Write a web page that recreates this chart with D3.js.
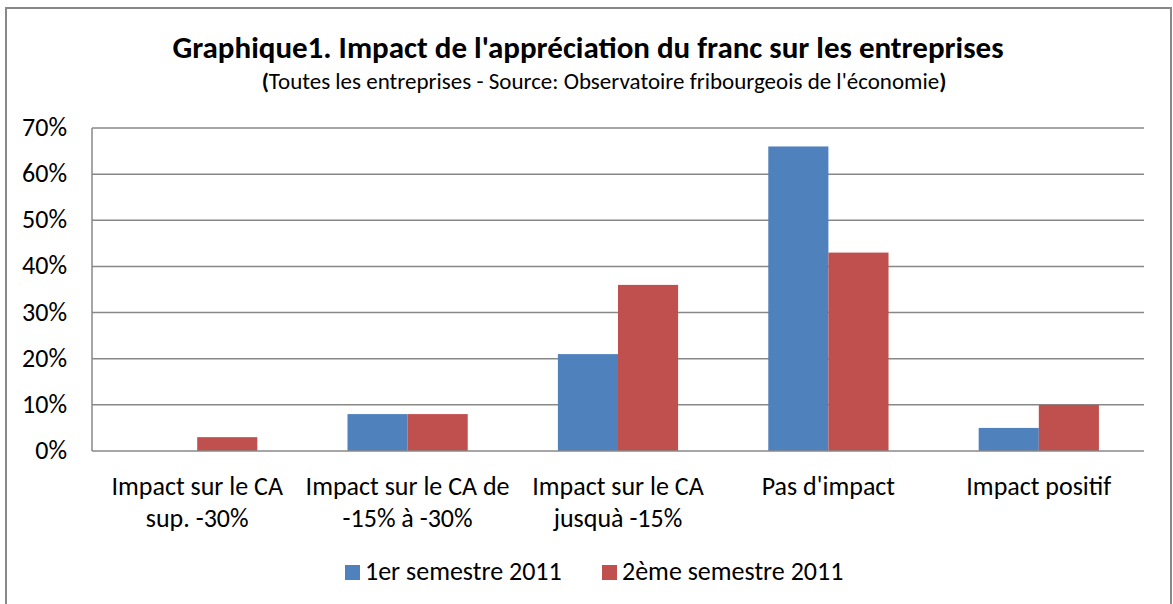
<!DOCTYPE html>
<html>
<head>
<meta charset="utf-8">
<script src="https://cdn.jsdelivr.net/npm/d3@7"></script>
<style>
body { margin: 0; background: #fff; }
svg text { font-family: Carlito, Lato, "Open Sans", sans-serif; fill: #000; }
</style>
</head>
<body>
<svg id="chart" width="1173" height="604"></svg>
<script>
const categories = [
  ["Impact sur le CA", "sup. -30%"],
  ["Impact sur le CA de", "-15% à -30%"],
  ["Impact sur le CA", "jusquà -15%"],
  ["Pas d'impact"],
  ["Impact positif"]
];
const seriesNames = ["1er semestre 2011", "2ème semestre 2011"];
const seriesColors = ["#4f81bd", "#c0504d"];
const semestre1 = [0, 8, 21, 66, 5];
const semestre2 = [3, 8, 36, 43, 10];
const yTicks = [0, 10, 20, 30, 40, 50, 60, 70];

const width = 1173, height = 604;
const margin = {left: 92, right: 29, top: 128, bottom: 153};

const svg = d3.select("#chart");

// outer frame
svg.append("rect")
  .attr("x", 6).attr("y", 8)
  .attr("width", 1165).attr("height", 620)
  .attr("fill", "none")
  .attr("stroke", "#888")
  .attr("stroke-width", 2);

const data = categories.map((c, i) => ({key: i, label: c, values: [semestre1[i], semestre2[i]]}));

const x0 = d3.scaleBand()
  .domain(data.map(d => d.key))
  .range([margin.left, width - margin.right]);

const x1 = d3.scaleBand()
  .domain([0, 1])
  .range([0, x0.bandwidth()])
  .paddingOuter(0.75);

const y = d3.scaleLinear()
  .domain([0, 70])
  .range([height - margin.bottom, margin.top]);

// gridlines
svg.append("g")
  .selectAll("line")
  .data(yTicks.slice(1))
  .join("line")
  .attr("x1", margin.left).attr("x2", width - margin.right)
  .attr("y1", d => y(d)).attr("y2", d => y(d))
  .attr("stroke", "#888")
  .attr("stroke-width", 1.5);

// bars
const groups = svg.append("g")
  .selectAll("g")
  .data(data)
  .join("g")
  .attr("transform", d => `translate(${x0(d.key)},0)`);

groups.selectAll("rect")
  .data(d => d.values.map((v, j) => ({j, v})))
  .join("rect")
  .attr("x", d => x1(d.j))
  .attr("width", x1.bandwidth())
  .attr("y", d => y(d.v))
  .attr("height", d => y(0) - y(d.v))
  .attr("fill", d => seriesColors[d.j]);

// axes lines
svg.append("line")
  .attr("x1", margin.left).attr("x2", margin.left)
  .attr("y1", y(70)).attr("y2", y(0))
  .attr("stroke", "#888").attr("stroke-width", 1.5);
svg.append("line")
  .attr("x1", margin.left).attr("x2", width - margin.right)
  .attr("y1", y(0)).attr("y2", y(0))
  .attr("stroke", "#888").attr("stroke-width", 1.5);

// y tick labels
svg.append("g")
  .selectAll("text")
  .data(yTicks)
  .join("text")
  .attr("x", 67)
  .attr("y", d => y(d) + 8)
  .attr("text-anchor", "end")
  .attr("font-size", 26)
  .text(d => d + "%");

// x labels
const xl = svg.append("g")
  .selectAll("text")
  .data(data)
  .join("text")
  .attr("x", d => x0(d.key) + x0.bandwidth() / 2)
  .attr("y", 495)
  .attr("text-anchor", "middle")
  .attr("font-size", 26);
xl.selectAll("tspan")
  .data(d => d.label)
  .join("tspan")
  .attr("x", function () { return this.parentNode.getAttribute("x"); })
  .attr("dy", (d, i) => i === 0 ? 0 : 32)
  .text(d => d);

// title
svg.append("text")
  .attr("x", 588).attr("y", 58)
  .attr("text-anchor", "middle")
  .attr("font-size", 31)
  .attr("font-weight", "bold")
  .text("Graphique1. Impact de l'appréciation du franc sur les entreprises");

const sub = svg.append("text")
  .attr("x", 604).attr("y", 89)
  .attr("text-anchor", "middle")
  .attr("font-size", 23);
sub.append("tspan").attr("font-weight", "bold").text("(");
sub.append("tspan").text("Toutes les entreprises - Source: Observatoire fribourgeois de l'économie");
sub.append("tspan").attr("font-weight", "bold").text(")");

// legend
const legendX = [345, 602];
const leg = svg.append("g")
  .selectAll("g")
  .data(seriesNames)
  .join("g")
  .attr("transform", (d, i) => `translate(${legendX[i]},565)`);
leg.append("rect")
  .attr("width", 15).attr("height", 15)
  .attr("fill", (d, i) => seriesColors[i]);
leg.append("text")
  .attr("x", 20).attr("y", 15)
  .attr("font-size", 26)
  .text(d => d);
</script>
</body>
</html>
